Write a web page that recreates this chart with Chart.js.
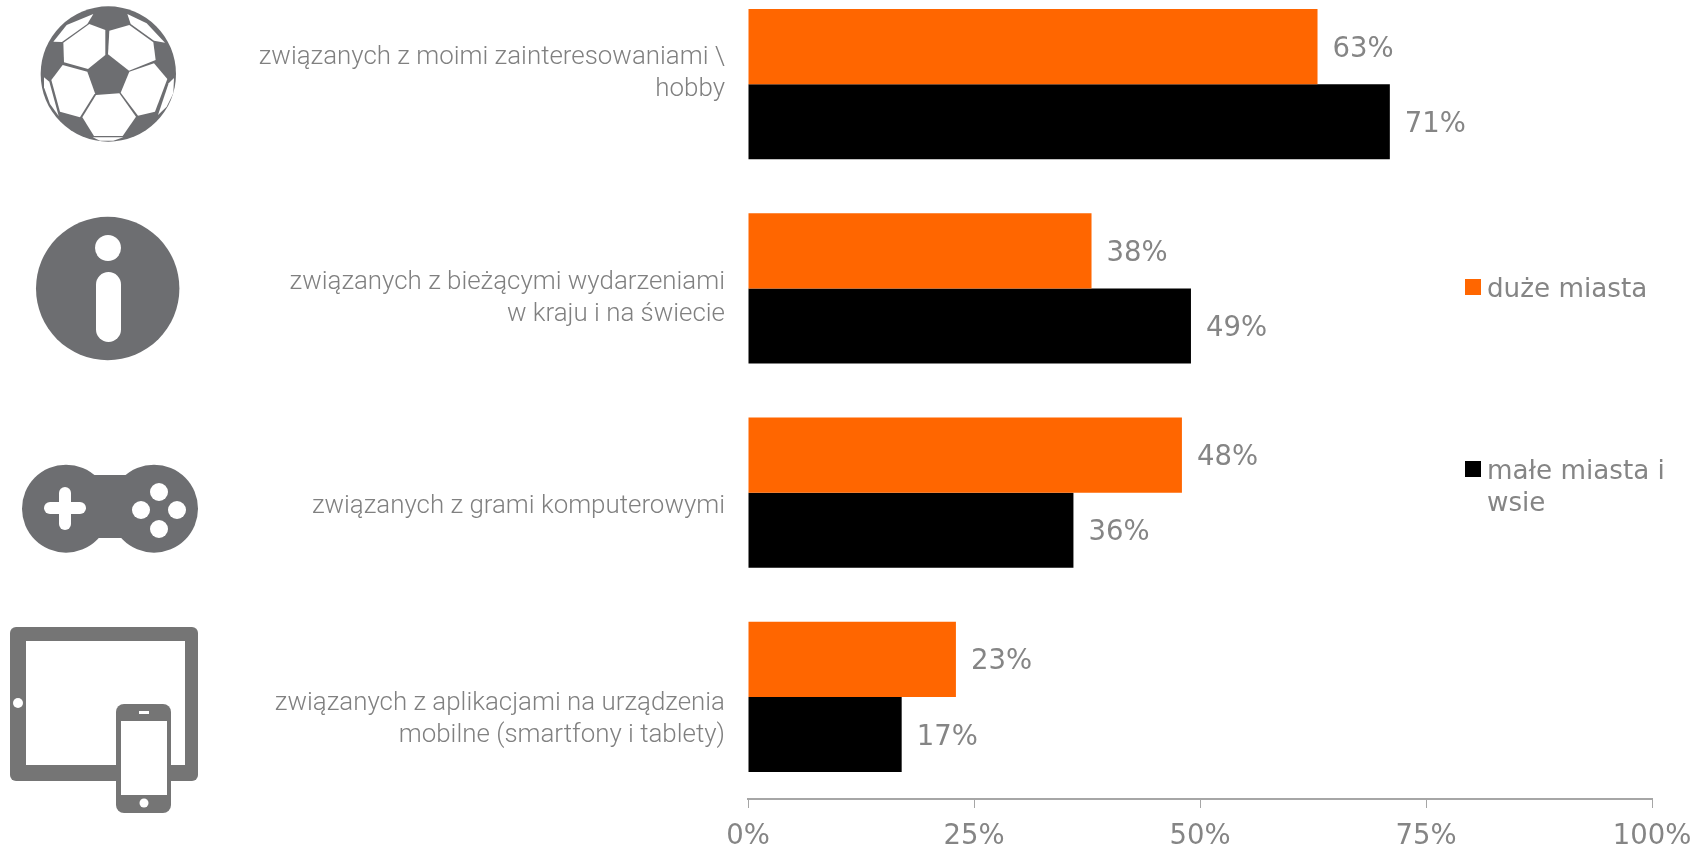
<!DOCTYPE html>
<html lang="pl">
<head>
<meta charset="utf-8">
<title>Wykres</title>
<script src="https://cdn.jsdelivr.net/npm/chart.js@4"></script>
<style>
    html, body { margin: 0; padding: 0; background: #fff; overflow: hidden; width: 1706px; height: 847px; }
    /* the plot band runs above the page top in the original, so the canvas starts at -20 */
    #wrap { position: absolute; left: 0; top: -20px; width: 1706px; height: 887px; }
    #icons { position: absolute; left: 0; top: 0; }
</style>
</head>
<body>
<svg id="icons" width="300" height="847" viewBox="0 0 300 847">
    <!-- ball, drawn in the 3x coordinates of the crop -->
    <g transform="scale(0.33333)">
        <circle cx="325" cy="222" r="203" fill="#6d6e71"/>
        <g fill="#fff">
            <polygon points="190,128 268,72 316,90 316,165 264,207 192,187"/>
            <polygon points="328,92 388,75 460,127 467,180 387,212 324,163"/>
            <polygon points="188,195 262,215 285,280 240,352 180,335 154,240"/>
            <polygon points="388,215 462,190 502,237 465,335 414,347 362,278"/>
            <polygon points="288,285 358,280 408,350 368,408 282,408 247,352"/>
            <polygon points="160,125 200,75 280,42 262,72 186,126"/>
            <polygon points="382,42 440,70 495,128 462,122 392,72"/>
            <polygon points="132,232 148,245 176,348 150,312 132,262"/>
            <polygon points="522,234 506,250 474,345 500,320 520,280"/>
            <polygon points="278,412 370,412 340,422 300,422"/>
        </g>
    </g>
    <!-- info -->
    <circle cx="107.7" cy="288.5" r="71.7" fill="#6d6e71"/>
    <circle cx="108" cy="248" r="13" fill="#fff"/>
    <rect x="96" y="272" width="25" height="70" rx="12.5" fill="#fff"/>
    <!-- gamepad -->
    <g fill="#6d6e71">
        <circle cx="66" cy="508.7" r="44"/>
        <circle cx="154" cy="508.7" r="44"/>
        <rect x="66" y="475" width="88" height="63"/>
    </g>
    <g fill="#fff">
        <rect x="44" y="502" width="42" height="12" rx="6"/>
        <rect x="59" y="487" width="12" height="43" rx="6"/>
        <circle cx="159" cy="492" r="9"/>
        <circle cx="141" cy="510" r="9"/>
        <circle cx="177" cy="510" r="9"/>
        <circle cx="159" cy="529" r="9"/>
    </g>
    <!-- tablet and phone -->
    <rect x="10" y="627" width="188" height="154" rx="6" fill="#757575"/>
    <rect x="26" y="641" width="159" height="124" fill="#fff"/>
    <circle cx="18" cy="703" r="5" fill="#fff"/>
    <rect x="116" y="704" width="55" height="109" rx="8" fill="#757575"/>
    <rect x="121" y="721" width="46" height="74" fill="#fff"/>
    <rect x="139" y="711" width="10" height="3" fill="#fff"/>
    <circle cx="144" cy="803" r="4.5" fill="#fff"/>
</svg>
<div id="wrap"><canvas id="chart"></canvas></div>
<script>
const categories = [
    ['związanych z moimi zainteresowaniami \\', 'hobby'],
    ['związanych z bieżącymi wydarzeniami', 'w kraju i na świecie'],
    ['związanych z grami komputerowymi'],
    ['związanych z aplikacjami na urządzenia', 'mobilne (smartfony i tablety)']
];
const bigCities = [63, 38, 48, 23];
const smallCities = [71, 49, 36, 17];
const xTicks = [0, 25, 50, 75, 100];

const ORANGE = '#ff6600';
const BLACK = '#000000';
const GREY = '#858585';

// labels sit a little off the group centre in the original
const labelNudge = [-11, 10, 14, 23];

const legendItems = [
    { color: ORANGE, lines: ['duże miasta'], top: 279 },
    { color: BLACK, lines: ['małe miasta i', 'wsie'], top: 461 }
];

// category text, right aligned against the bars
const categoryLabels = {
    id: 'categoryLabels',
    afterDraw(chart) {
        const ctx = chart.ctx;
        const y = chart.scales.y;
        ctx.save();
        ctx.font = '300 25.9px Roboto, "Liberation Sans", sans-serif';
        ctx.fillStyle = '#808080';
        ctx.textAlign = 'right';
        ctx.textBaseline = 'middle';
        categories.forEach((lines, i) => {
            const mid = y.getPixelForTick(i) + labelNudge[i];
            lines.forEach((line, n) => {
                ctx.fillText(line, 725, mid + (n - (lines.length - 1) / 2) * 32);
            });
        });
        ctx.restore();
    }
};

// value at the end of each bar
const valueLabels = {
    id: 'valueLabels',
    afterDatasetsDraw(chart) {
        const ctx = chart.ctx;
        ctx.save();
        ctx.font = '27.5px "DejaVu Sans", sans-serif';
        ctx.fillStyle = GREY;
        ctx.textAlign = 'left';
        ctx.textBaseline = 'middle';
        chart.data.datasets.forEach((ds, d) => {
            chart.getDatasetMeta(d).data.forEach((bar, i) => {
                ctx.fillText(ds.data[i] + '%', bar.x + 15, bar.y + 3);
            });
        });
        ctx.restore();
    }
};

const sideLegend = {
    id: 'sideLegend',
    afterDraw(chart) {
        const ctx = chart.ctx;
        ctx.save();
        ctx.font = '26.2px "DejaVu Sans", sans-serif';
        ctx.textAlign = 'left';
        ctx.textBaseline = 'alphabetic';
        legendItems.forEach(item => {
            ctx.fillStyle = item.color;
            ctx.fillRect(1465, item.top + 20, 16, 16);
            ctx.fillStyle = GREY;
            item.lines.forEach((line, n) => {
                ctx.fillText(line, 1487, item.top + 38 + n * 32);
            });
        });
        ctx.restore();
    }
};

new Chart(document.getElementById('chart'), {
    type: 'bar',
    data: {
        labels: categories,
        datasets: [
            { label: 'duże miasta', data: bigCities, backgroundColor: ORANGE },
            { label: 'małe miasta i wsie', data: smallCities, backgroundColor: BLACK }
        ]
    },
    options: {
        indexAxis: 'y',
        responsive: true,
        maintainAspectRatio: false,
        animation: false,
        layout: { padding: { top: 2, right: 54, bottom: 0, left: 0 } },
        datasets: { bar: { categoryPercentage: 0.735, barPercentage: 1 } },
        scales: {
            x: {
                min: 0,
                max: 100,
                afterBuildTicks: scale => { scale.ticks = xTicks.map(value => ({ value })); },
                afterFit: scale => { scale.height = 68; },
                grid: { drawOnChartArea: false, tickLength: 9, color: '#a6a6a6' },
                border: { color: '#a6a6a6', width: 2 },
                ticks: {
                    callback: value => value + '%',
                    color: GREY,
                    padding: 12,
                    maxRotation: 0,
                    font: { family: '"DejaVu Sans", sans-serif', size: 27.5 }
                }
            },
            y: {
                afterFit: scale => { scale.width = 748; },
                grid: { display: false },
                border: { display: false },
                ticks: { display: false }
            }
        },
        plugins: { legend: { display: false }, tooltip: { enabled: false } }
    },
    plugins: [categoryLabels, valueLabels, sideLegend]
});
</script>
</body>
</html>
